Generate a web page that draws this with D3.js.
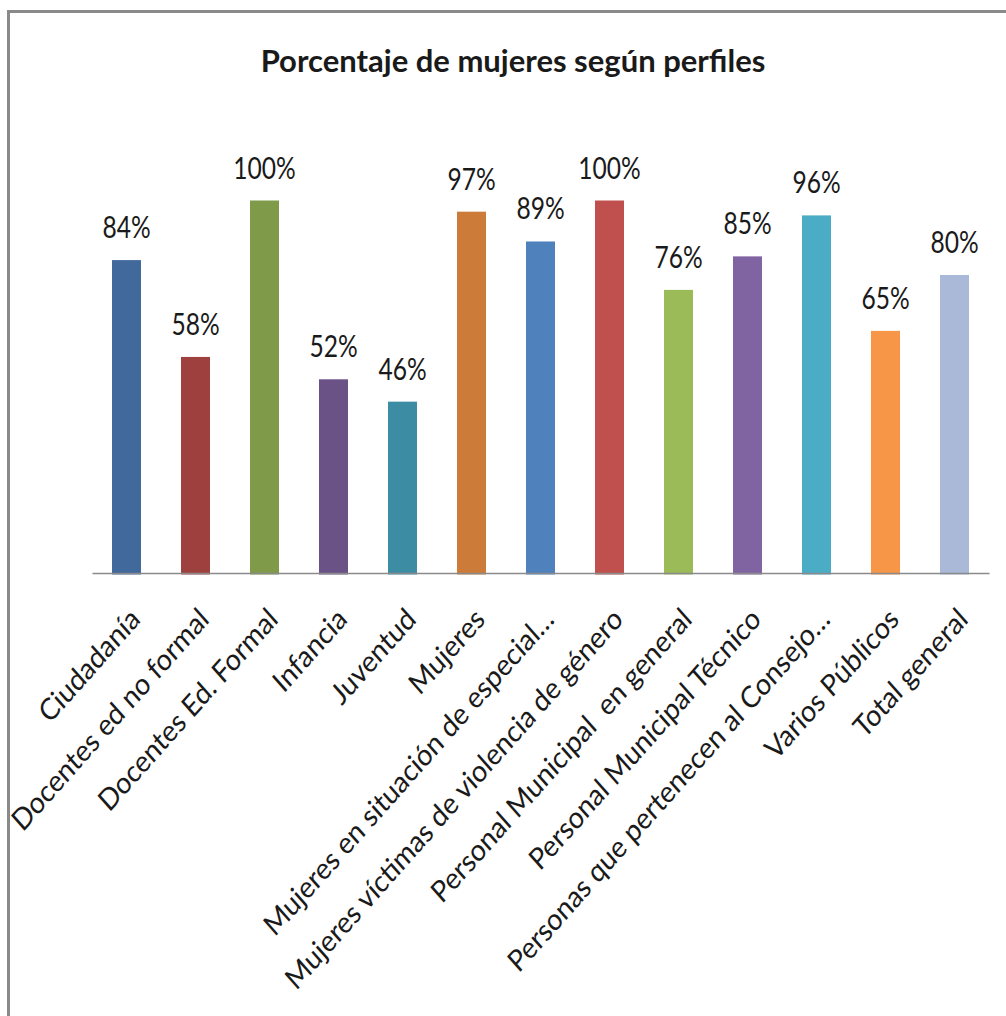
<!DOCTYPE html>
<html>
<head>
<meta charset="utf-8">
<script src="https://cdn.jsdelivr.net/npm/d3@7"></script>
<style>
  body { margin: 0; background: #fff; }
  text { font-family: Lato, "Open Sans", sans-serif; fill: #1a1a1a; }
</style>
</head>
<body>
<svg id="chart"></svg>
<script>
// data
const categories = [
  "Ciudadanía", "Docentes ed no formal", "Docentes Ed. Formal", "Infancia",
  "Juventud", "Mujeres", "Mujeres en situación de especial…",
  "Mujeres víctimas de violencia de género", "Personal Municipal  en general",
  "Personal Municipal Técnico", "Personas que pertenecen al Consejo…",
  "Varios Públicos", "Total general"
];
const values = [0.84, 0.58, 1.00, 0.52, 0.46, 0.97, 0.89, 1.00, 0.76, 0.85, 0.96, 0.65, 0.80];
const colors = [
  "#41699b", "#9e413e", "#7f9a48", "#6a5186", "#3c8da4", "#cc7b39", "#4f81bd",
  "#c0504d", "#9bbb59", "#8064a2", "#4bacc6", "#f79646", "#aab9d7"
];
const title = "Porcentaje de mujeres según perfiles";

// build
const width = 1006;
const height = 1016;
const sx = 0.887; // the picture is squeezed sideways

const svg = d3.select('#chart')
  .attr('width', width)
  .attr('height', height);

// frame (runs off the right and bottom edges)
svg.append('rect')
  .attr('x', 8.5).attr('y', 11.5)
  .attr('width', 1200).attr('height', 1200)
  .attr('fill', 'none')
  .attr('stroke', '#8a8a8a')
  .attr('stroke-width', 3);

svg.append('text')
  .attr('transform', `translate(513, 72) scale(1.0, 1)`)
  .attr('text-anchor', 'middle')
  .style('font-size', '31px')
  .style('font-weight', 'bold')
  .text(title);

const xScale = d3.scaleBand()
  .range([92, 989])
  .domain(categories)
  .paddingInner(0.58)
  .paddingOuter(0.29);

const yScale = d3.scaleLinear()
  .range([573, 200.5])
  .domain([0, 1]);

const data = categories.map((c, i) => ({ name: c, value: values[i], color: colors[i] }));

svg.selectAll('rect.bar')
  .data(data)
  .enter()
  .append('rect')
  .attr('class', 'bar')
  .attr('x', (s) => xScale(s.name))
  .attr('y', (s) => yScale(s.value))
  .attr('width', xScale.bandwidth())
  .attr('height', (s) => yScale(0) + 1.5 - yScale(s.value))
  .attr('fill', (s) => s.color);

// axis line
const xAxis = svg.append('g')
  .attr('transform', `translate(0, ${yScale(0)})`)
  .call(d3.axisBottom(xScale).tickSize(0).tickFormat(''));
xAxis.select('.domain')
  .attr('stroke', '#8a8a8a')
  .attr('stroke-width', 1.5);

// value labels
const fmt = d3.format('.0%');
svg.selectAll('text.value')
  .data(data)
  .enter()
  .append('text')
  .attr('class', 'value')
  .attr('transform', (s) => `translate(${xScale(s.name) + xScale.bandwidth() / 2}, ${yScale(s.value) - 22}) scale(0.82, 1)`)
  .attr('text-anchor', 'middle')
  .style('font-size', '30px')
  .text((s) => fmt(s.value));

// category labels, slanted
svg.selectAll('text.cat')
  .data(data)
  .enter()
  .append('text')
  .attr('class', 'cat')
  .attr('transform', (s) => `translate(${xScale(s.name) + xScale.bandwidth() / 2 + 15}, 621) scale(${sx}, 1) rotate(-45)`)
  .attr('text-anchor', 'end')
  .style('font-size', '30px')
  .style('white-space', 'pre')
  .text((s) => s.name);
</script>
</body>
</html>
